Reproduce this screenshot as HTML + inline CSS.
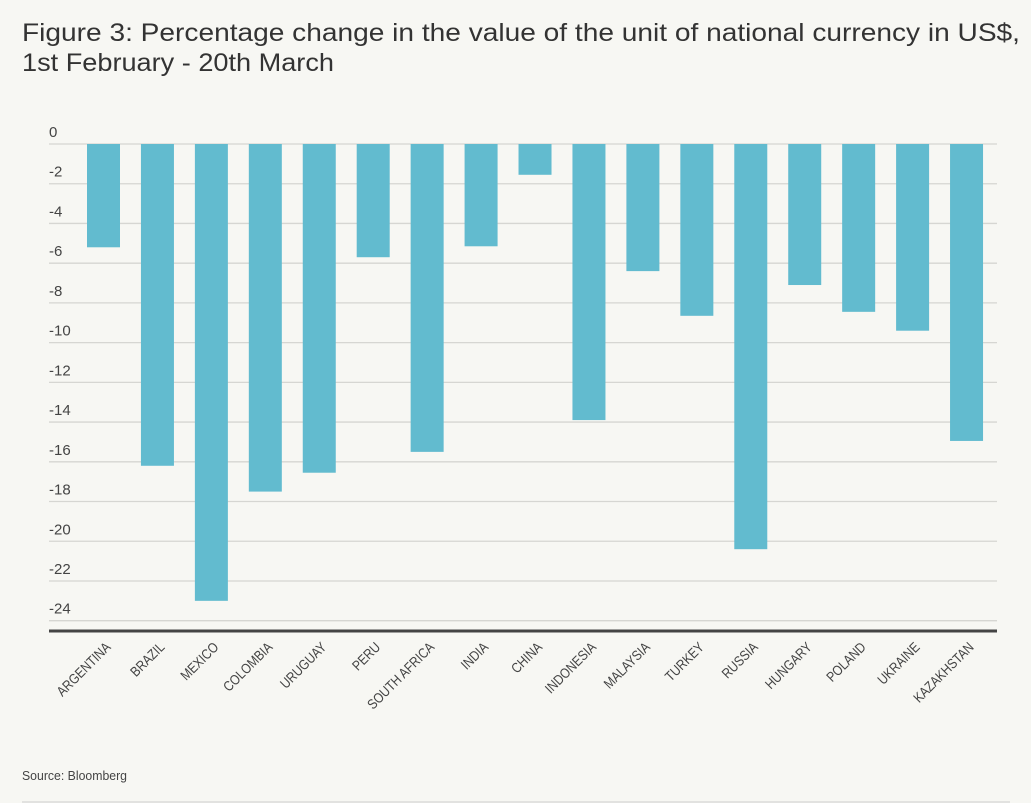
<!DOCTYPE html>
<html><head><meta charset="utf-8"><style>
html,body{margin:0;padding:0;background:#f7f7f3;}
svg{display:block;font-family:"Liberation Sans",sans-serif;}
</style></head><body>
<svg width="1031" height="803" viewBox="0 0 1031 803">
<rect width="1031" height="803" fill="#f7f7f3"/>
<text x="22" y="41" font-size="25" fill="#333" textLength="998" lengthAdjust="spacingAndGlyphs">Figure 3: Percentage change in the value of the unit of national currency in US$,</text>
<text x="22" y="71" font-size="25" fill="#333" textLength="312" lengthAdjust="spacingAndGlyphs">1st February - 20th March</text>
<g id="grid"></g>
<g id="bars"></g>
<g id="labels"></g>
<line x1="49" y1="631" x2="997" y2="631" stroke="#444" stroke-width="3"/>
<text x="22" y="780" font-size="13" fill="#444" textLength="105" lengthAdjust="spacingAndGlyphs">Source: Bloomberg</text>
<line x1="22" y1="802" x2="1010" y2="802" stroke="#ccc" stroke-width="1"/>
</svg>
<script>
const categories=["ARGENTINA","BRAZIL","MEXICO","COLOMBIA","URUGUAY","PERU","SOUTH AFRICA","INDIA","CHINA","INDONESIA","MALAYSIA","TURKEY","RUSSIA","HUNGARY","POLAND","UKRAINE","KAZAKHSTAN"];
const values=[-5.2,-16.2,-23.0,-17.5,-16.55,-5.7,-15.5,-5.15,-1.55,-13.9,-6.4,-8.65,-20.4,-7.1,-8.45,-9.4,-14.95];
const tickValues=[0,-2,-4,-6,-8,-10,-12,-14,-16,-18,-20,-22,-24];
const tickLabels=["0","-2","-4","-6","-8","-10","-12","-14","-16","-18","-20","-22","-24"];
const NS="http://www.w3.org/2000/svg";
function y(v){return 144-v*((620.7-144)/24);}
function xc(i){return 103.5+i*53.94;}
const grid=document.getElementById('grid'),bars=document.getElementById('bars'),labels=document.getElementById('labels');
tickValues.forEach((t,i)=>{
  const l=document.createElementNS(NS,'line');
  l.setAttribute('x1',49);l.setAttribute('x2',997);l.setAttribute('y1',y(t));l.setAttribute('y2',y(t));
  l.setAttribute('stroke','#d6d6d2');l.setAttribute('stroke-width','1.3');
  
  
  grid.appendChild(l);
  const tx=document.createElementNS(NS,'text');
  tx.setAttribute('x',49);tx.setAttribute('y',y(t)-7);tx.setAttribute('font-size','15');tx.setAttribute('fill','#444');
  tx.textContent=tickLabels[i];
  
  
  grid.appendChild(tx);
});
categories.forEach((c,i)=>{
  const v=values[i];
  const r=document.createElementNS(NS,'rect');
  r.setAttribute('x',xc(i)-16.5);r.setAttribute('width',33);
  r.setAttribute('y',Math.min(y(0),y(v)));r.setAttribute('height',Math.abs(y(v)-y(0)));
  r.setAttribute('fill','#62bbcf');
  
  
  bars.appendChild(r);
  const t=document.createElementNS(NS,'text');
  const lx=xc(i)+8,ly=648;
  t.setAttribute('x',0);t.setAttribute('y',0);
  t.setAttribute('transform','translate('+lx+','+ly+') rotate(-45) scale(0.85,1)');
  t.setAttribute('text-anchor','end');t.setAttribute('font-size','14');t.setAttribute('fill','#444');
  t.textContent=c;
  
  
  labels.appendChild(t);
});
</script>
</body></html>
